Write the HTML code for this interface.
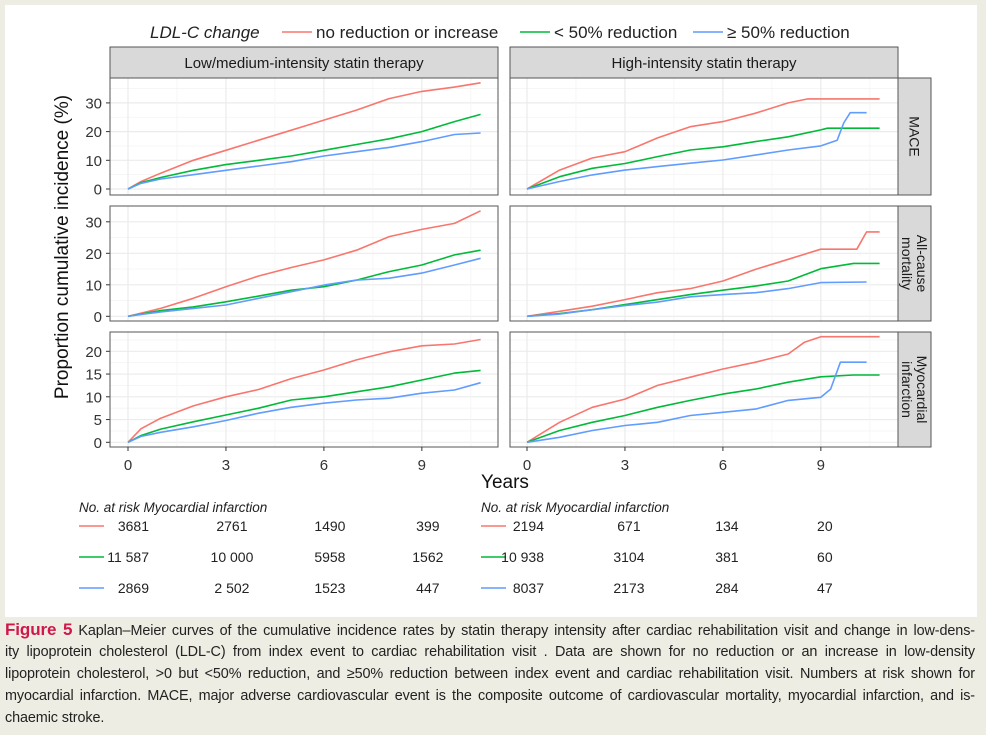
<!DOCTYPE html>
<html><head><meta charset="utf-8">
<style>
body{margin:0;width:986px;height:735px;background:#eeede3;overflow:hidden;font-family:"Liberation Sans",sans-serif;}
#card{position:absolute;left:5px;top:5px;width:972px;height:612px;background:#fff;}
#cap{position:absolute;left:5px;top:619px;width:970px;font-size:14.4px;line-height:22px;color:#222;letter-spacing:-0.1px;}
#cap div{text-align:justify;text-align-last:justify;white-space:normal;height:22px;overflow:hidden;}
#cap div.last{text-align-last:left;}
#cap b{color:#d0174b;font-size:17px;}
svg{position:absolute;left:0;top:0;}
</style></head><body>
<div id="card"></div>
<svg id="chart" width="986" height="617"></svg>
<div id="cap">
<div><b>Figure 5</b> Kaplan–Meier curves of the cumulative incidence rates by statin therapy intensity after cardiac rehabilitation visit and change in low-dens-</div>
<div>ity lipoprotein cholesterol (LDL-C) from index event to cardiac rehabilitation visit . Data are shown for no reduction or an increase in low-density</div>
<div>lipoprotein cholesterol, &gt;0 but &lt;50% reduction, and ≥50% reduction between index event and cardiac rehabilitation visit. Numbers at risk shown for</div>
<div>myocardial infarction. MACE, major adverse cardiovascular event is the composite outcome of cardiovascular mortality, myocardial infarction, and is-</div>
<div class="last">chaemic stroke.</div>
</div>
<script>
const T = [0,0.4,1,2,3,4,5,6,7,8,9,10,10.8];
const T_HB = [0,1,2,3,4,5,6,7,8,9,9.5,9.7,9.9,10.4];
const T_HR_MACE = [0,1,2,3,4,5,6,7,8,8.6,10.8];
const T_HG_MACE = [0,1,2,3,4,5,6,7,8,9,9.2,10.8];
const T_HR_MORT = [0,1,2,3,4,5,6,7,8,9,10,10.1,10.4,10.8];
const T_HG_MORT = [0,1,2,3,4,5,6,7,8,9,10,10.8];
const T_HB_MORT = [0,1,2,3,4,5,6,7,8,9,10.4];
const T_HR_MI = [0,1,2,3,4,5,6,7,8,8.5,9,10.8];
const T_HG_MI = [0,1,2,3,4,5,6,7,8,9,10,10.8];
const T_HB_MI = [0,1,2,3,4,5,6,7,8,9,9.3,9.6,10.4];
// Low/medium intensity
const lowMaceRed   = [0,2.6,5.5,10,13.5,17,20.5,24,27.5,31.5,34,35.5,37];
const lowMaceGreen = [0,2.2,4,6.5,8.5,10,11.5,13.5,15.5,17.5,20,23.5,26];
const lowMaceBlue  = [0,2,3.5,5,6.5,8,9.5,11.5,13,14.5,16.5,19,19.5];
const lowMortRed   = [0,1,2.5,5.7,9.4,12.8,15.5,17.9,21,25.3,27.6,29.5,33.5];
const lowMortGreen = [0,0.7,1.8,3,4.6,6.4,8.3,9.4,11.5,14.2,16.3,19.5,21];
const lowMortBlue  = [0,0.6,1.4,2.5,3.6,5.7,7.8,9.9,11.5,12.1,13.7,16.3,18.4];
const lowMiRed     = [0,3,5.3,8,10,11.6,14,15.9,18.1,19.9,21.2,21.6,22.6];
const lowMiGreen   = [0,1.5,2.9,4.5,6,7.5,9.3,10,11.1,12.2,13.7,15.2,15.8];
const lowMiBlue    = [0,1.3,2.2,3.4,4.8,6.4,7.7,8.6,9.3,9.7,10.8,11.5,13.1];
// High intensity
const hiMaceRed    = [0,6.6,10.8,13,17.8,21.7,23.5,26.4,30,31.4,31.4];
const hiMaceGreen  = [0,4.3,7.2,8.9,11.3,13.6,14.7,16.5,18.2,20.6,21.2,21.2];
const hiMaceBlue   = [0,2.6,4.9,6.6,7.8,9,10.1,11.8,13.6,15,17,23,26.6,26.6];
const hiMortRed    = [0,1.6,3.2,5.3,7.5,8.8,11.2,14.9,18.1,21.3,21.3,21.3,26.8,26.8];
const hiMortGreen  = [0,0.9,2.1,3.7,5.3,6.9,8.3,9.6,11.2,15.1,16.8,16.8];
const hiMortBlue   = [0,0.7,2.1,3.4,4.5,6.2,6.9,7.5,8.8,10.7,10.9];
const hiMiRed      = [0,4.4,7.7,9.5,12.5,14.3,16.1,17.6,19.4,22,23.2,23.2];
const hiMiGreen    = [0,2.6,4.4,5.9,7.7,9.2,10.6,11.7,13.2,14.4,14.8,14.8];
const hiMiBlue     = [0,1.1,2.6,3.7,4.4,5.9,6.6,7.3,9.2,9.9,11.7,17.6,17.6];
const xTicks = [0,3,6,9];
const rowLabels = [["MACE"],["All-cause","mortality"],["Myocardial","infarction"]];
const colLabels = ["Low/medium-intensity statin therapy","High-intensity statin therapy"];
const rowTicks = [[0,10,20,30],[0,10,20,30],[0,5,10,15,20]];
const riskLow = [["3681","2761","1490","399"],["11 587","10 000","5958","1562"],["2869","2 502","1523","447"]];
const riskHigh = [["2194","671","134","20"],["10 938","3104","381","60"],["8037","2173","284","47"]];

const COLORS = ["#F8766D","#00BA38","#619CFF"];
const svg = document.getElementById('chart');
const NS = "http://www.w3.org/2000/svg";
function mk(tag, attrs, parent){const e=document.createElementNS(NS,tag);for(const k in attrs)e.setAttribute(k,attrs[k]);(parent||svg).appendChild(e);return e;}
function txt(x,y,s,attrs,parent){const e=mk('text',Object.assign({x:x,y:y},attrs),parent);e.textContent=s;return e;}

const colX = [[110,498],[510,898]];
const x0s = [128,527];
const pxYear = 32.65;
const rows = [
  {top:78,bot:195,zero:189,per:2.87},
  {top:206,bot:321,zero:316.3,per:3.15},
  {top:332,bot:447,zero:442.3,per:4.55}
];
function xScale(c,t){return x0s[c]+t*pxYear;}
function yScale(r,v){return rows[r].zero-v*rows[r].per;}

const panels = [
  [[T,lowMaceRed],[T,lowMaceGreen],[T,lowMaceBlue]],
  [[T_HR_MACE,hiMaceRed],[T_HG_MACE,hiMaceGreen],[T_HB,hiMaceBlue]],
  [[T,lowMortRed],[T,lowMortGreen],[T,lowMortBlue]],
  [[T_HR_MORT,hiMortRed],[T_HG_MORT,hiMortGreen],[T_HB_MORT,hiMortBlue]],
  [[T,lowMiRed],[T,lowMiGreen],[T,lowMiBlue]],
  [[T_HR_MI,hiMiRed],[T_HG_MI,hiMiGreen],[T_HB_MI,hiMiBlue]]
];
const seriesNames=["no-reduction","lt50-reduction","ge50-reduction"];

const lg = mk('g',{});


txt(150,38,"LDL-C change",{'font-size':17,'font-style':'italic',fill:'#222'},lg);
const legItems=[[282,"no reduction or increase"],[520,"< 50% reduction"],[693,"≥ 50% reduction"]];
legItems.forEach((it,i)=>{
  const g=mk('g',{},lg);
  
  
  mk('line',{x1:it[0],x2:it[0]+30,y1:32,y2:32,stroke:COLORS[i],'stroke-width':1.5},g);
  txt(it[0]+34,38,it[1],{'font-size':17,fill:'#222'},g);
});

colLabels.forEach((s,c)=>{
  const g=mk('g',{});
  
  
  mk('rect',{x:colX[c][0],y:47,width:colX[c][1]-colX[c][0],height:31,fill:'#d9d9d9',stroke:'#555','stroke-width':1},g);
  txt((colX[c][0]+colX[c][1])/2,68,s,{'font-size':15,'text-anchor':'middle',fill:'#1a1a1a'},g);
});

for(let r=0;r<3;r++){
  const R=rows[r];
  const sg=mk('g',{});
  
  
  mk('rect',{x:898,y:R.top,width:33,height:R.bot-R.top,fill:'#d9d9d9',stroke:'#555','stroke-width':1},sg);
  const cy=(R.top+R.bot)/2, lbl=rowLabels[r];
  const tg=mk('text',{transform:`translate(914.5,${cy}) rotate(90)`,'font-size':14,'text-anchor':'middle',fill:'#1a1a1a'},sg);
  lbl.forEach((l,i)=>{const ts=mk('tspan',{x:0,y:(i-(lbl.length-1)/2)*15+5},tg);ts.textContent=l;});
  rowTicks[r].forEach(v=>{
    const y=yScale(r,v);
    mk('line',{x1:106,x2:110,y1:y,y2:y,stroke:'#333','stroke-width':1});
    txt(102,y+5.5,String(v),{'font-size':15,'text-anchor':'end',fill:'#333'});
  });
  for(let c=0;c<2;c++){
    const pg=mk('g',{});
    
    
    mk('rect',{x:colX[c][0],y:R.top,width:colX[c][1]-colX[c][0],height:R.bot-R.top,fill:'#fff'},pg);
    const tk=rowTicks[r], step=tk[1]-tk[0];
    for(let v=tk[0]-step/2; v<=tk[tk.length-1]+step; v+=step/2){
      const y=yScale(r,v); if(y<R.top||y>R.bot) continue;
      const major=Math.abs(v/step-Math.round(v/step))<1e-6;
      mk('line',{x1:colX[c][0],x2:colX[c][1],y1:y,y2:y,stroke:major?'#ebebeb':'#f4f4f4','stroke-width':major?1.2:0.8},pg);
    }
    for(let t=0;t<=12;t+=1.5){
      const x=xScale(c,t); if(x>colX[c][1]) continue;
      const major=t%3===0;
      mk('line',{x1:x,x2:x,y1:R.top,y2:R.bot,stroke:major?'#ebebeb':'#f4f4f4','stroke-width':major?1.2:0.8},pg);
    }
    panels[r*2+c].forEach((s,i)=>{
      const [ts,vs]=s;
      let d='';
      ts.forEach((t,k)=>{d+=(k?'L':'M')+xScale(c,t).toFixed(1)+','+yScale(r,vs[k]).toFixed(1);});
      const p=mk('path',{d:d,fill:'none',stroke:COLORS[i],'stroke-width':1.6,'stroke-linejoin':'round'},pg);
      
      
    });
    mk('rect',{x:colX[c][0],y:R.top,width:colX[c][1]-colX[c][0],height:R.bot-R.top,fill:'none',stroke:'#555','stroke-width':1},pg);
  }
}
for(let c=0;c<2;c++){
  xTicks.forEach(t=>{
    const x=xScale(c,t);
    mk('line',{x1:x,x2:x,y1:447,y2:451,stroke:'#333','stroke-width':1});
    txt(x,470,String(t),{'font-size':15,'text-anchor':'middle',fill:'#333'});
  });
}
const xt=txt(505,488,"Years",{'font-size':19,'text-anchor':'middle',fill:'#111'});


const yt=txt(0,0,"Proportion cumulative incidence (%)",{'font-size':19,'text-anchor':'middle',fill:'#111',transform:'translate(68,247) rotate(-90)'});



[[riskLow,79,0],[riskHigh,481,1]].forEach(([tab,lx,c])=>{
  const g=mk('g',{});
  
  
  txt(lx,512,"No. at risk Myocardial infarction",{'font-size':13.5,'font-style':'italic',fill:'#222'},g);
  const ys=[531,562,593];
  tab.forEach((row,i)=>{
    mk('line',{x1:lx,x2:lx+25,y1:ys[i]-5,y2:ys[i]-5,stroke:COLORS[i],'stroke-width':1.5},g);
    row.forEach((s,k)=>{
      if(k===0) txt(lx+(c===0?70:63),ys[i],s,{'font-size':14,'text-anchor':'end',fill:'#222'},g);
      else txt(xScale(c,xTicks[k])+(c===0?6:4),ys[i],s,{'font-size':14,'text-anchor':'middle',fill:'#222'},g);
    });
  });
});
</script>
</body></html>
